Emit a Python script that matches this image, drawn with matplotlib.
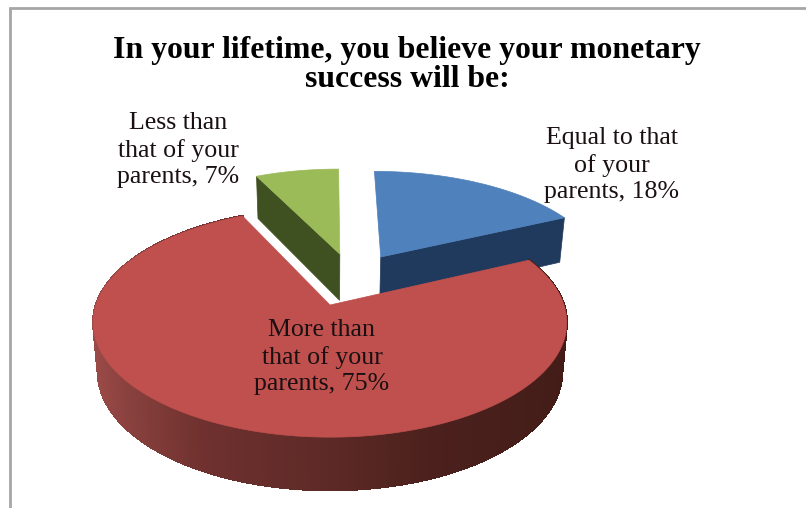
import numpy as np
import matplotlib
matplotlib.use("Agg")
import matplotlib.pyplot as plt
from matplotlib.patches import Polygon
from matplotlib.colors import to_rgb

title_text = "In your lifetime, you believe your monetary\nsuccess will be:"
categories = ["Equal to that\nof your\nparents", "More than\nthat of your\nparents", "Less than\nthat of your\nparents"]
values = [18, 75, 7]
top_colors = ["#4F81BD", "#C0504D", "#9BBB59"]
side_colors = ["#203A5E", "#6B2F2D", "#3F5021"]
offsets = [(0.232, 0.4585), (0.0, 0.0), (0.045, 0.489)]
label_xy = [(612, 165), (322, 357), (178, 150)]

# projection of the pie plane to pixel coordinates
CX, CY, A, B, K = 330.0, 305.0, 234.0, 112.0, 0.1525

def project(X, Y):
    w = 1 + K * Y
    return CX + A * X / w, CY - B * Y / w

def project_bottom(X, Y):
    x, y = project(X, Y)
    return CX + (x - CX) * 0.98, y + (53 - 4.5 * (Y + 1))

fig = plt.figure(figsize=(8.06, 5.08), dpi=100)
ax = fig.add_axes([0, 0, 1, 1])
ax.set_xlim(0, 806)
ax.set_ylim(508, 0)
ax.axis("off")

# chart frame
ax.plot([10, 10, 806], [508, 8, 8], color="#A6A6A6", lw=2.0, solid_joinstyle="miter")

edges = np.concatenate([[0], np.cumsum(values)]) / sum(values) * 2 * np.pi

def arc(i, n=240):
    t = np.linspace(edges[i], edges[i + 1], n)
    ox, oy = offsets[i]
    return np.sin(t) + ox, np.cos(t) + oy

def cut_face(i, theta):
    ox, oy = offsets[i]
    ex, ey = np.sin(theta) + ox, np.cos(theta) + oy
    pts = [project(ox, oy), project(ex, ey), project_bottom(ex, ey), project_bottom(ox, oy)]
    ax.add_patch(Polygon(pts, fc=side_colors[i], ec=side_colors[i], lw=0.5, zorder=2))

def top_face(i, z):
    X, Y = arc(i)
    ox, oy = offsets[i]
    x, y = project(np.r_[ox, X], np.r_[oy, Y])
    ax.add_patch(Polygon(np.c_[x, y], fc=top_colors[i], ec=top_colors[i], lw=0.5, zorder=z))

# exploded slices behind
cut_face(0, edges[1])
cut_face(2, edges[2])
top_face(0, 3)
top_face(2, 3)

# red rim with horizontal shading
X, Y = arc(1, 400)
xt, yt = project(X, Y)
xb, yb = project_bottom(X, Y)
stops_x = np.array([93, 130, 200, 320, 430, 567], float)
stops_c = np.array([to_rgb(c) for c in ["#9A4A47", "#87403D", "#6F312F", "#5E2A27", "#4C211D", "#431C18"]])
for j in range(len(X) - 1):
    xm = (xt[j] + xt[j + 1]) / 2
    col = [np.interp(xm, stops_x, stops_c[:, c]) for c in range(3)]
    ax.add_patch(Polygon([(xt[j], yt[j]), (xt[j + 1], yt[j + 1]), (xb[j + 1], yb[j + 1]), (xb[j], yb[j])],
                         fc=col, ec=col, lw=1.0, zorder=4, antialiased=False))
top_face(1, 5)

font = "Liberation Serif"
ax.text(407, 65, title_text, ha="center", va="center", fontsize=22.9, fontweight="bold",
        family=font, color="black", linespacing=0.98, zorder=6)
for cat, val, (lx, ly) in zip(categories, values, label_xy):
    ax.text(lx, ly, f"{cat}, {val}%", ha="center", va="center", fontsize=18.6, family=font,
            color="#1a1012", linespacing=1.27, zorder=6)

fig.savefig("out.png", dpi=100, facecolor="white")
